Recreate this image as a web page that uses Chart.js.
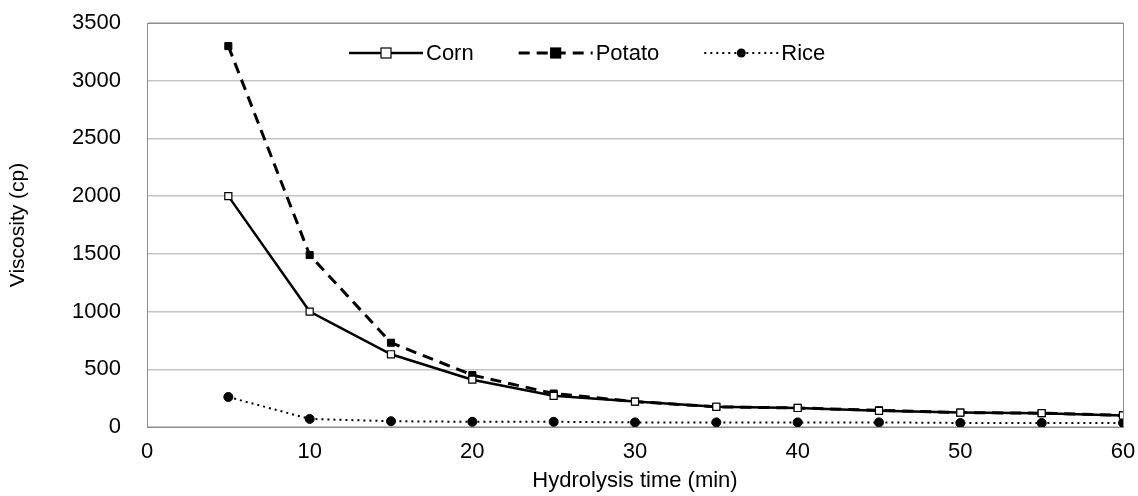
<!DOCTYPE html>
<html>
<head>
<meta charset="utf-8">
<script src="https://cdn.jsdelivr.net/npm/chart.js@4/dist/chart.umd.min.js"></script>
<style>
  html, body { margin: 0; padding: 0; background: #fff; }
  #wrap { width: 1138px; height: 496px; }
</style>
</head>
<body>
<div id="wrap"><canvas id="myChart"></canvas></div>
<script>
const times = [5, 10, 15, 20, 25, 30, 35, 40, 45, 50, 55, 60];
const corn = [2000, 1000, 630, 410, 270, 220, 175, 165, 140, 125, 120, 100];
const potato = [3300, 1490, 730, 450, 290, 220, 175, 165, 145, 125, 120, 100];
const rice = [260, 70, 50, 45, 45, 40, 40, 40, 40, 35, 35, 35];

const toPoints = (vals) => vals.map((v, i) => ({ x: times[i], y: v }));

const FONT = 'Liberation Sans, Arial, sans-serif';

// legend drawn inside the plot, near the top
const insideLegend = {
  id: 'insideLegend',
  afterDraw(chart) {
    const c = chart.ctx;
    const area = chart.chartArea;
    // frame round the plot
    c.save();
    c.strokeStyle = '#8c8c8c';
    c.lineWidth = 1;
    c.strokeRect(area.left + 0.5, area.top + 0.5, area.right - area.left, area.bottom - area.top);
    c.restore();

    const y = area.top + 30;
    let x = 349;
    c.save();
    c.font = '22px ' + FONT;
    c.textBaseline = 'middle';
    chart.data.datasets.forEach((ds) => {
      const len = 74;
      c.strokeStyle = '#000';
      c.lineWidth = ds.borderWidth;
      c.setLineDash(ds.borderDash || []);
      c.beginPath();
      c.moveTo(x, y);
      c.lineTo(x + len, y);
      c.stroke();
      c.setLineDash([]);
      const mx = x + len / 2;
      c.fillStyle = ds.pointBackgroundColor;
      c.lineWidth = 1.2;
      if (ds.pointStyle === 'circle') {
        c.beginPath();
        c.arc(mx, y, ds.pointRadius, 0, Math.PI * 2);
        c.fill();
      } else {
        const r = ds.pointRadius;
        c.fillRect(mx - r, y - r, r * 2, r * 2);
        c.strokeRect(mx - r, y - r, r * 2, r * 2);
      }
      c.fillStyle = '#000';
      c.fillText(ds.label, x + len + 3, y + 1);
      x += len + 3 + c.measureText(ds.label).width + 45;
    });
    c.restore();
  }
};

const ctx = document.getElementById('myChart');

new Chart(ctx, {
  type: 'line',
  data: {
    datasets: [
      {
        label: 'Corn',
        data: toPoints(corn),
        borderColor: '#000',
        borderWidth: 2.5,
        pointStyle: 'rect',
        pointRadius: 5,
        pointBackgroundColor: '#fff',
        pointBorderColor: '#000',
        pointBorderWidth: 1.2,
        tension: 0
      },
      {
        label: 'Potato',
        data: toPoints(potato),
        borderColor: '#000',
        borderWidth: 3,
        borderDash: [11, 7],
        pointStyle: 'rect',
        pointRadius: 5,
        pointBackgroundColor: '#000',
        pointBorderColor: '#000',
        pointBorderWidth: 1,
        tension: 0
      },
      {
        label: 'Rice',
        data: toPoints(rice),
        borderColor: '#000',
        borderWidth: 2,
        borderDash: [2, 4],
        pointStyle: 'circle',
        pointRadius: 4.5,
        pointBackgroundColor: '#000',
        pointBorderColor: '#000',
        pointBorderWidth: 1,
        tension: 0
      }
    ]
  },
  options: {
    responsive: true,
    maintainAspectRatio: false,
    animation: false,
    layout: { padding: { left: 0, right: 15, top: 23, bottom: 0 } },
    plugins: {
      legend: { display: false },
      tooltip: { enabled: false }
    },
    scales: {
      x: {
        type: 'linear',
        min: 0,
        max: 60,
        ticks: {
          stepSize: 10, color: '#000', padding: 12,
          font: { family: FONT, size: 22 },
          callback: (v) => String(v)
        },
        grid: { display: false, drawTicks: false },
        border: { color: '#8c8c8c' },
        title: {
          display: true,
          text: 'Hydrolysis time (min)',
          color: '#000',
          font: { family: FONT, size: 22 },
          padding: { top: 2, bottom: 2 }
        },
        afterFit(scale) {
          scale.height = 69;
          scale.paddingLeft = 0;
          scale.paddingRight = 0;
        }
      },
      y: {
        min: 0,
        max: 3500,
        ticks: {
          stepSize: 500, color: '#000', padding: 26,
          font: { family: FONT, size: 22 },
          callback: (v) => String(v)
        },
        grid: { color: '#c4c4c4', lineWidth: 1.5, drawTicks: false },
        border: { color: '#8c8c8c' },
        title: {
          display: true,
          text: 'Viscosity (cp)',
          color: '#000',
          font: { family: FONT, size: 21 },
          padding: { top: 6, bottom: 0 }
        },
        afterFit(scale) {
          scale.width = 147;
          scale.paddingTop = 0;
          scale.paddingBottom = 0;
        }
      }
    }
  },
  plugins: [insideLegend]
});
</script>
</body>
</html>
